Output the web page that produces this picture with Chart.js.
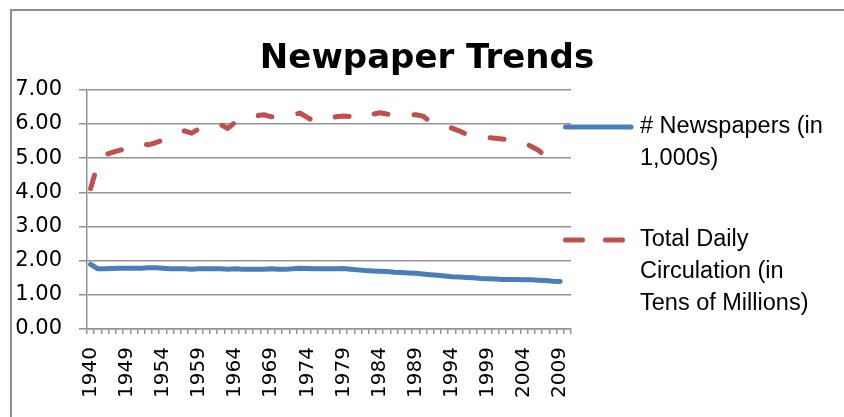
<!DOCTYPE html>
<html>
<head>
<meta charset="utf-8">
<script src="https://cdn.jsdelivr.net/npm/chart.js@4.4.1/dist/chart.umd.min.js"></script>
<style>
  html, body { margin: 0; padding: 0; background: #fff; overflow: hidden; }
  #wrap { position: relative; width: 844px; height: 417px; overflow: hidden; }
  #frame {
    position: absolute; left: 10px; top: 9px; right: -4px; bottom: -4px;
    border-left: 2px solid #8f8f8f; border-top: 2px solid #8f8f8f;
    pointer-events: none;
  }
</style>
</head>
<body>
<div id="wrap">
  <canvas id="chart" width="844" height="417"></canvas>
  <div id="frame"></div>
</div>
<script>
// categories: 1940, then every year 1945-2010 (2010 has no data)
const years = [
  '1940', '1945', '1946', '1947', '1948', '1949', '1950', '1951', '1952', '1953',
  '1954', '1955', '1956', '1957', '1958', '1959', '1960', '1961', '1962', '1963',
  '1964', '1965', '1966', '1967', '1968', '1969', '1970', '1971', '1972', '1973',
  '1974', '1975', '1976', '1977', '1978', '1979', '1980', '1981', '1982', '1983',
  '1984', '1985', '1986', '1987', '1988', '1989', '1990', '1991', '1992', '1993',
  '1994', '1995', '1996', '1997', '1998', '1999', '2000', '2001', '2002', '2003',
  '2004', '2005', '2006', '2007', '2008', '2009', '2010'
];

// # Newspapers (in 1,000s)
const newspapers = [
  1.89, 1.76, 1.76, 1.77, 1.78, 1.78, 1.78, 1.78, 1.79, 1.79,
  1.78, 1.76, 1.76, 1.76, 1.75, 1.76, 1.76, 1.76, 1.76, 1.75,
  1.76, 1.75, 1.75, 1.75, 1.75, 1.76, 1.75, 1.75, 1.76, 1.78,
  1.77, 1.76, 1.76, 1.76, 1.76, 1.77, 1.75, 1.73, 1.71, 1.70,
  1.69, 1.68, 1.66, 1.65, 1.64, 1.63, 1.61, 1.59, 1.57, 1.55,
  1.53, 1.52, 1.51, 1.50, 1.48, 1.47, 1.46, 1.45, 1.45, 1.45,
  1.44, 1.44, 1.43, 1.42, 1.40, 1.39, null
];

// Total Daily Circulation (in Tens of Millions) - the series stops at 2007
const circulation = [
  4.11, 4.84, 5.09, 5.17, 5.23, 5.28, 5.38, 5.43, 5.39, 5.45,
  5.53, 5.61, 5.71, 5.80, 5.73, 5.86, 5.89, 5.91, 5.98, 5.87,
  6.05, 6.08, 6.15, 6.24, 6.27, 6.21, 6.21, 6.22, 6.26, 6.32,
  6.19, 6.07, 6.11, 6.16, 6.21, 6.23, 6.22, 6.15, 6.25, 6.28,
  6.33, 6.29, 6.26, 6.28, 6.27, 6.27, 6.23, 6.07, 6.02, 5.97,
  5.88, 5.80, 5.70, 5.67, 5.62, 5.60, 5.58, 5.56, 5.52, 5.52,
  5.46, 5.34, 5.23, 5.06, null, null, null
];

const yTicks = [0, 1, 2, 3, 4, 5, 6, 7];

const seriesNames = [
  ['# Newspapers (in', '1,000s)'],
  ['Total Daily', 'Circulation (in', 'Tens of Millions)']
];

const gridColor = '#939393';

// legend drawn over the right side, like the original (it overlaps the plot edge)
const sideLegend = {
  id: 'sideLegend',
  afterDraw(chart) {
    const ctx = chart.ctx;
    const rows = [127, 240];
    chart.data.datasets.forEach((ds, i) => {
      const y = rows[i];
      ctx.save();
      ctx.strokeStyle = ds.borderColor;
      ctx.lineWidth = ds.borderWidth;
      ctx.lineCap = 'round';
      ctx.setLineDash(ds.borderDash ? [17, 23] : []);
      ctx.beginPath();
      ctx.moveTo(565.5, y);
      ctx.lineTo(631, y);
      ctx.stroke();
      ctx.restore();

      ctx.save();
      ctx.fillStyle = '#000';
      ctx.font = '23.5px "Liberation Sans"';
      ctx.textBaseline = 'middle';
      ctx.textAlign = 'left';
      seriesNames[i].forEach((line, k) => {
        ctx.fillText(line, 640, y + k * 32);
      });
      ctx.restore();
    });
  }
};

new Chart(document.getElementById('chart'), {
  type: 'line',
  data: {
    labels: years,
    datasets: [
      {
        label: seriesNames[0].join(' '),
        data: newspapers,
        borderColor: '#4a7ebb',
        borderWidth: 5,
        borderCapStyle: 'round',
        borderJoinStyle: 'round',
        pointRadius: 0,
        tension: 0,
        fill: false
      },
      {
        label: seriesNames[1].join(' '),
        data: circulation,
        borderColor: '#c0504d',
        borderWidth: 5,
        borderDash: [14, 26.3],
        borderCapStyle: 'round',
        borderJoinStyle: 'round',
        pointRadius: 0,
        tension: 0,
        fill: false
      }
    ]
  },
  options: {
    responsive: false,
    animation: false,
    devicePixelRatio: 1,
    layout: { padding: { left: 10, right: 0, top: 0, bottom: 0 } },
    plugins: {
      legend: { display: false },
      tooltip: { enabled: false },
      title: {
        display: true,
        text: 'Newpaper Trends',
        color: '#000',
        font: { family: 'DejaVu Sans', size: 34, weight: 'bold' },
        padding: { top: 39, bottom: 10 }
      }
    },
    scales: {
      x: {
        offset: true,
        grid: {
          display: true,
          offset: true,
          drawOnChartArea: false,
          drawTicks: true,
          tickLength: 5,
          color: gridColor,
          lineWidth: 1.5
        },
        border: { display: true, color: gridColor, width: 1.5 },
        ticks: {
          autoSkip: false,
          minRotation: 90,
          maxRotation: 90,
          padding: 13,
          color: '#000',
          font: { family: 'DejaVu Sans', size: 20 },
          callback: function(value, index) {
            return index % 5 === 0 ? this.getLabelForValue(value) : '';
          }
        },
        afterFit: s => { s.height = 88; }
      },
      y: {
        min: 0,
        max: 7,
        afterBuildTicks: s => { s.ticks = yTicks.map(v => ({ value: v })); },
        grid: { color: gridColor, lineWidth: 1.5, tickLength: 8 },
        border: { display: true, color: gridColor, width: 1.5 },
        ticks: {
          padding: 17,
          color: '#000',
          font: { family: 'DejaVu Sans', size: 21 },
          callback: v => v.toFixed(2)
        },
        afterFit: s => { s.width = 77; }
      },
      // empty right axis only reserves room for the legend
      yRight: {
        type: 'linear',
        position: 'right',
        display: true,
        grid: { display: false },
        border: { display: false },
        ticks: { display: false },
        afterFit: s => { s.width = 273; }
      }
    }
  },
  plugins: [sideLegend]
});
</script>
</body>
</html>
